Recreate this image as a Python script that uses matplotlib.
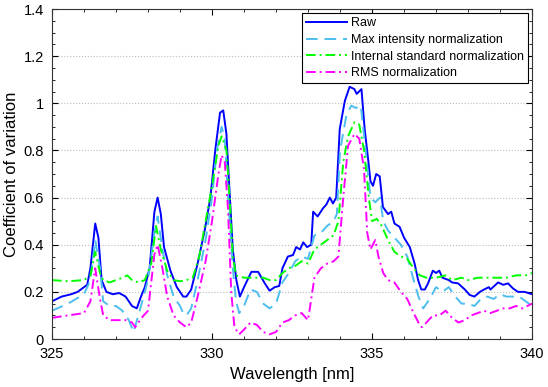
import matplotlib
matplotlib.use("Agg")
import matplotlib.pyplot as plt
from matplotlib.ticker import MultipleLocator, FuncFormatter

# ---- data (wavelength in nm, CV) ----
raw_x = [325.0, 325.3, 325.6, 325.8, 326.0, 326.1, 326.2, 326.35, 326.45, 326.55,
         326.7, 326.9, 327.1, 327.3, 327.5, 327.65, 327.78, 327.9, 328.05, 328.2,
         328.3, 328.4, 328.5, 328.7, 328.9, 329.1, 329.2, 329.35, 329.55, 329.77,
         329.95, 330.1, 330.25, 330.35, 330.45, 330.55, 330.65, 330.76, 330.87, 331.0,
         331.23, 331.44, 331.65, 331.8, 331.96, 332.1, 332.2, 332.37, 332.53, 332.63,
         332.75, 332.85, 332.97, 333.1, 333.16, 333.3, 333.47, 333.57, 333.68, 333.78,
         333.88, 333.99, 334.15, 334.3, 334.45, 334.52, 334.67, 334.77, 334.88, 334.95,
         335.03, 335.13, 335.24, 335.34, 335.5, 335.6, 335.7, 335.86, 336.0, 336.18,
         336.33, 336.44, 336.54, 336.65, 336.75, 336.9, 337.0, 337.1, 337.2, 337.4,
         337.5, 337.69, 337.9, 338.05, 338.2, 338.37, 338.5, 338.65, 338.7, 338.94,
         339.1, 339.25, 339.4, 339.56, 339.77, 340.0]
raw_y = [0.16, 0.18, 0.19, 0.20, 0.22, 0.23, 0.30, 0.49, 0.43, 0.25,
         0.20, 0.19, 0.195, 0.18, 0.14, 0.13, 0.18, 0.22, 0.30, 0.54,
         0.60, 0.53, 0.39, 0.29, 0.22, 0.18, 0.18, 0.21, 0.32, 0.46,
         0.60, 0.80, 0.96, 0.97, 0.87, 0.62, 0.38, 0.25, 0.18, 0.22,
         0.285, 0.285, 0.236, 0.205, 0.22, 0.225, 0.30, 0.35, 0.356, 0.39,
         0.38, 0.41, 0.39, 0.40, 0.54, 0.52, 0.555, 0.57, 0.60, 0.575,
         0.60, 0.89, 1.01, 1.07, 1.06, 1.04, 1.06, 0.89, 0.76, 0.67,
         0.65, 0.70, 0.69, 0.56, 0.53, 0.54, 0.49, 0.476, 0.43, 0.39,
         0.32, 0.25, 0.21, 0.21, 0.236, 0.29, 0.28, 0.29, 0.26, 0.25,
         0.24, 0.236, 0.21, 0.187, 0.18, 0.20, 0.21, 0.22, 0.21, 0.24,
         0.23, 0.236, 0.215, 0.20, 0.20, 0.19]

maxint_x = [325.0, 325.5, 326.0, 326.2, 326.35, 326.5, 326.6, 326.8, 327.0, 327.2,
            327.4, 327.55, 327.8, 328.0, 328.2, 328.3, 328.45, 328.6, 328.8, 329.0,
            329.1, 329.2, 329.35, 329.55, 329.8, 330.0, 330.15, 330.3, 330.4, 330.5,
            330.65, 330.75, 330.85, 331.0, 331.2, 331.4, 331.6, 331.8, 332.0, 332.2,
            332.4, 332.6, 332.8, 333.0, 333.2, 333.4, 333.6, 333.8, 333.9, 334.0,
            334.2, 334.35, 334.5, 334.65, 334.8, 334.95, 335.1, 335.25, 335.35, 335.5,
            335.7, 335.9, 336.1, 336.3, 336.45, 336.6, 336.8, 337.0, 337.2, 337.4,
            337.6, 337.8, 338.0, 338.2, 338.4, 338.6, 338.8, 339.0, 339.2, 339.4,
            339.6, 339.8, 340.0]
maxint_y = [0.12, 0.15, 0.19, 0.25, 0.42, 0.30, 0.16, 0.14, 0.14, 0.12,
            0.08, 0.03, 0.15, 0.25, 0.45, 0.52, 0.38, 0.27, 0.18, 0.14,
            0.11, 0.10, 0.13, 0.25, 0.42, 0.60, 0.80, 0.90, 0.85, 0.60,
            0.30, 0.16, 0.11, 0.14, 0.21, 0.20, 0.15, 0.13, 0.15, 0.24,
            0.28, 0.33, 0.35, 0.34, 0.44, 0.45, 0.48, 0.50, 0.53, 0.80,
            0.95, 0.99, 0.98, 0.99, 0.80, 0.60, 0.58, 0.60, 0.50, 0.46,
            0.43, 0.40, 0.35, 0.25, 0.18, 0.13, 0.17, 0.22, 0.20, 0.22,
            0.18, 0.15, 0.15, 0.14, 0.17, 0.18, 0.17, 0.19, 0.18, 0.18,
            0.18, 0.16, 0.14]

intstd_x = [325.0, 325.5, 326.0, 326.2, 326.35, 326.5, 326.6, 326.8, 327.0, 327.2,
            327.35, 327.5, 327.7, 327.9, 328.1, 328.25, 328.4, 328.6, 328.8, 329.0,
            329.2, 329.4, 329.6, 329.8, 330.0, 330.2, 330.3, 330.45, 330.55, 330.65,
            330.75, 331.0, 331.3, 331.6, 331.8, 332.0, 332.2, 332.4, 332.6, 332.8,
            333.0, 333.2, 333.4, 333.6, 333.8, 333.95, 334.1, 334.25, 334.45, 334.6,
            334.75, 334.9, 335.0, 335.15, 335.3, 335.5, 335.7, 335.9, 336.1, 336.3,
            336.5, 336.7, 337.0, 337.3, 337.5, 337.8, 338.0, 338.3, 338.6, 338.9,
            339.2, 339.5, 339.8, 340.0]
intstd_y = [0.25, 0.245, 0.25, 0.27, 0.37, 0.28, 0.25, 0.24, 0.25, 0.26,
            0.27, 0.25, 0.24, 0.25, 0.32, 0.48, 0.38, 0.29, 0.25, 0.245,
            0.25, 0.26, 0.35, 0.50, 0.65, 0.82, 0.86, 0.80, 0.60, 0.35,
            0.27, 0.26, 0.26, 0.26, 0.25, 0.25, 0.28, 0.30, 0.31, 0.33,
            0.32, 0.38, 0.40, 0.42, 0.44, 0.50, 0.75, 0.86, 0.92, 0.91,
            0.80, 0.60, 0.50, 0.51, 0.48, 0.42, 0.37, 0.35, 0.34, 0.30,
            0.27, 0.26, 0.26, 0.27, 0.25, 0.26, 0.25, 0.26, 0.26, 0.26,
            0.26, 0.27, 0.27, 0.28]

rms_x = [325.0, 325.5, 326.0, 326.2, 326.35, 326.5, 326.6, 326.8, 327.0, 327.3,
         327.5, 327.6, 327.8, 328.0, 328.2, 328.3, 328.45, 328.6, 328.8, 329.0,
         329.2, 329.35, 329.55, 329.8, 330.0, 330.2, 330.3, 330.4, 330.5, 330.6,
         330.7, 330.85, 331.0, 331.2, 331.4, 331.6, 331.8, 332.0, 332.2, 332.4,
         332.6, 332.8, 333.0, 333.2, 333.4, 333.6, 333.8, 333.95, 334.1, 334.25,
         334.45, 334.6, 334.75, 334.85, 334.95, 335.1, 335.2, 335.35, 335.5, 335.7,
         335.9, 336.1, 336.3, 336.45, 336.55, 336.7, 336.9, 337.1, 337.3, 337.5,
         337.7, 337.9, 338.1, 338.3, 338.5, 338.7, 338.9, 339.1, 339.3, 339.5,
         339.7, 340.0]
rms_y = [0.09, 0.10, 0.11, 0.16, 0.30, 0.17, 0.10, 0.08, 0.08, 0.08,
         0.07, 0.05, 0.09, 0.12, 0.36, 0.40, 0.30, 0.18, 0.10, 0.07,
         0.05, 0.07, 0.18, 0.33, 0.50, 0.70, 0.78, 0.75, 0.55, 0.20,
         0.05, 0.02, 0.04, 0.07, 0.06, 0.03, 0.02, 0.03, 0.07, 0.08,
         0.10, 0.11, 0.08, 0.26, 0.30, 0.32, 0.33, 0.35, 0.60, 0.82,
         0.87, 0.85, 0.72, 0.45, 0.38, 0.42, 0.35, 0.28, 0.25, 0.24,
         0.20, 0.17, 0.11, 0.07, 0.05, 0.07, 0.10, 0.10, 0.12, 0.09,
         0.07, 0.08, 0.10, 0.11, 0.12, 0.11, 0.12, 0.13, 0.13, 0.14,
         0.13, 0.15]

plt.rcParams['font.family'] = ['Liberation Sans', 'DejaVu Sans']

fig = plt.figure(figsize=(5.48, 3.87), dpi=100)
ax = fig.add_axes([0.0949, 0.124, 0.876, 0.8527])

ax.plot(raw_x, raw_y, color='#0000FF', lw=1.4, label='Raw')
ax.plot(maxint_x, maxint_y, color='#4DBEEE', lw=1.4, ls=(0, (6, 3.5)),
        label='Max intensity normalization')
ax.plot(intstd_x, intstd_y, color='#00FF00', lw=1.4, ls=(0, (5, 2, 1, 2)),
        label='Internal standard normalization')
ax.plot(rms_x, rms_y, color='#FF00FF', lw=1.4, ls=(0, (5, 2, 1, 2)),
        label='RMS normalization')

ax.set_xlim(325, 340)
ax.set_ylim(0, 1.4)
ax.xaxis.set_major_locator(MultipleLocator(5))
ax.xaxis.set_minor_locator(MultipleLocator(1))
ax.yaxis.set_major_locator(MultipleLocator(0.2))
ax.yaxis.set_minor_locator(MultipleLocator(0.05))
ax.yaxis.set_major_formatter(FuncFormatter(lambda v, p: '%g' % round(v, 2)))
ax.tick_params(which='both', direction='in', top=True, right=True, labelsize=10.5)
ax.tick_params(axis='x', which='major', length=4, pad=6)
ax.tick_params(axis='y', which='major', length=4, pad=6)
ax.tick_params(which='minor', length=2.5)
ax.grid(axis='y', which='major', color='#BBBBBB', ls=':', lw=0.8)
for s in ax.spines.values():
    s.set_color('#333333')
    s.set_linewidth(0.8)

ax.set_xlabel('Wavelength [nm]', fontsize=12, labelpad=4)
ax.set_ylabel('Coefficient of variation', fontsize=12, labelpad=3)

leg = ax.legend(loc='upper right', fontsize=9, handlelength=3.3,
                fancybox=False, edgecolor='black', framealpha=1,
                borderaxespad=0.35, labelspacing=0.38, handletextpad=0.3,
                borderpad=0.3)
leg.get_frame().set_linewidth(0.8)

fig.savefig('out.png', dpi=100)
